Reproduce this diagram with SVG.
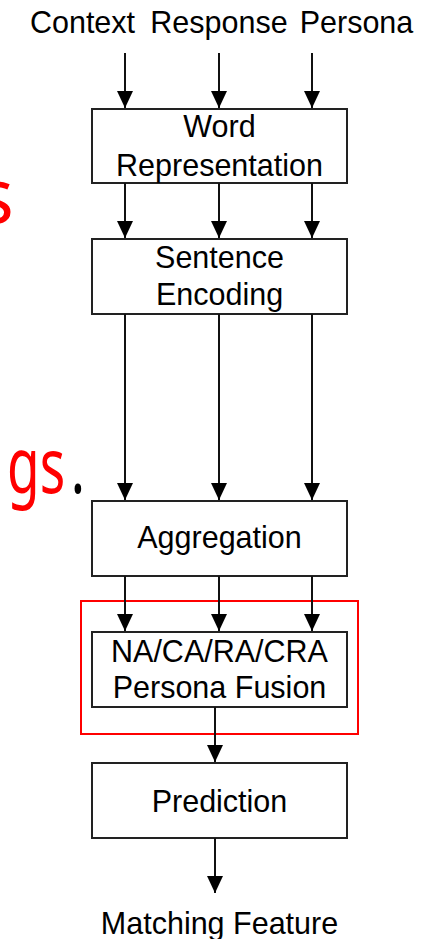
<svg xmlns="http://www.w3.org/2000/svg" width="433" height="939" viewBox="0 0 433 939">
<style>
.box{fill:#fff;stroke:#222;stroke-width:2}
.lbl{font-family:"Liberation Sans",Arial,sans-serif;font-size:30.5px;fill:#000;text-anchor:middle}
.con{stroke:#111;stroke-width:2;fill:none;marker-end:url(#ah)}
.red{font-family:"Noto Sans","Open Sans",sans-serif;font-size:76px;fill:#f00}
</style>
<defs>
<marker id="ah" markerUnits="userSpaceOnUse" markerWidth="16" markerHeight="18" refX="17" refY="8" orient="auto">
<path d="M0,0 L17,8 L0,16 Z" fill="#000"/>
</marker>
</defs>
<rect width="433" height="939" fill="#fff"/>
<text class="red" x="14" y="223" text-anchor="end">s</text>
<text class="red" transform="translate(7,493) scale(0.7,1)" x="0" y="0">gs<tspan dx="8" fill="#000">.</tspan></text>
<g id="inputs">
<text class="lbl" x="82.5" y="33">Context</text>
<text class="lbl" x="219" y="33">Response</text>
<text class="lbl" x="356.5" y="33">Persona</text>
</g>
<g id="word">
<rect class="box" x="92" y="109" width="255" height="74"/>
<text class="lbl" x="219.5" y="137">Word</text>
<text class="lbl" x="219.5" y="176">Representation</text>
</g>
<g id="sentence">
<rect class="box" x="92" y="239" width="255" height="75"/>
<text class="lbl" x="219.5" y="268">Sentence</text>
<text class="lbl" x="219.5" y="305">Encoding</text>
</g>
<g id="aggregation">
<rect class="box" x="92" y="501" width="255" height="75"/>
<text class="lbl" x="219.5" y="548">Aggregation</text>
</g>
<g id="highlight">
<rect x="81" y="601" width="277" height="133" fill="none" stroke="#f00" stroke-width="2"/>
</g>
<g id="fusion">
<rect class="box" x="92" y="632" width="255" height="75"/>
<text class="lbl" x="219.5" y="662">NA/CA/RA/CRA</text>
<text class="lbl" x="219.5" y="698">Persona Fusion</text>
</g>
<g id="prediction">
<rect class="box" x="92" y="763" width="255" height="75"/>
<text class="lbl" x="219.5" y="812">Prediction</text>
</g>
<g id="output">
<text class="lbl" x="219.5" y="934">Matching Feature</text>
</g>
<g id="connectors">
<line class="con" x1="125" y1="53" x2="125" y2="108"/>
<line class="con" x1="219" y1="53" x2="219" y2="108"/>
<line class="con" x1="312" y1="53" x2="312" y2="108"/>
<line class="con" x1="125" y1="183" x2="125" y2="238"/>
<line class="con" x1="219" y1="183" x2="219" y2="238"/>
<line class="con" x1="312" y1="183" x2="312" y2="238"/>
<line class="con" x1="125" y1="314" x2="125" y2="500"/>
<line class="con" x1="219" y1="314" x2="219" y2="500"/>
<line class="con" x1="312" y1="314" x2="312" y2="500"/>
<line class="con" x1="125" y1="576" x2="125" y2="631"/>
<line class="con" x1="219" y1="576" x2="219" y2="631"/>
<line class="con" x1="312" y1="576" x2="312" y2="631"/>
<line class="con" x1="215" y1="707" x2="215" y2="762"/>
<line class="con" x1="215" y1="838" x2="215" y2="893"/>
</g>
</svg>
